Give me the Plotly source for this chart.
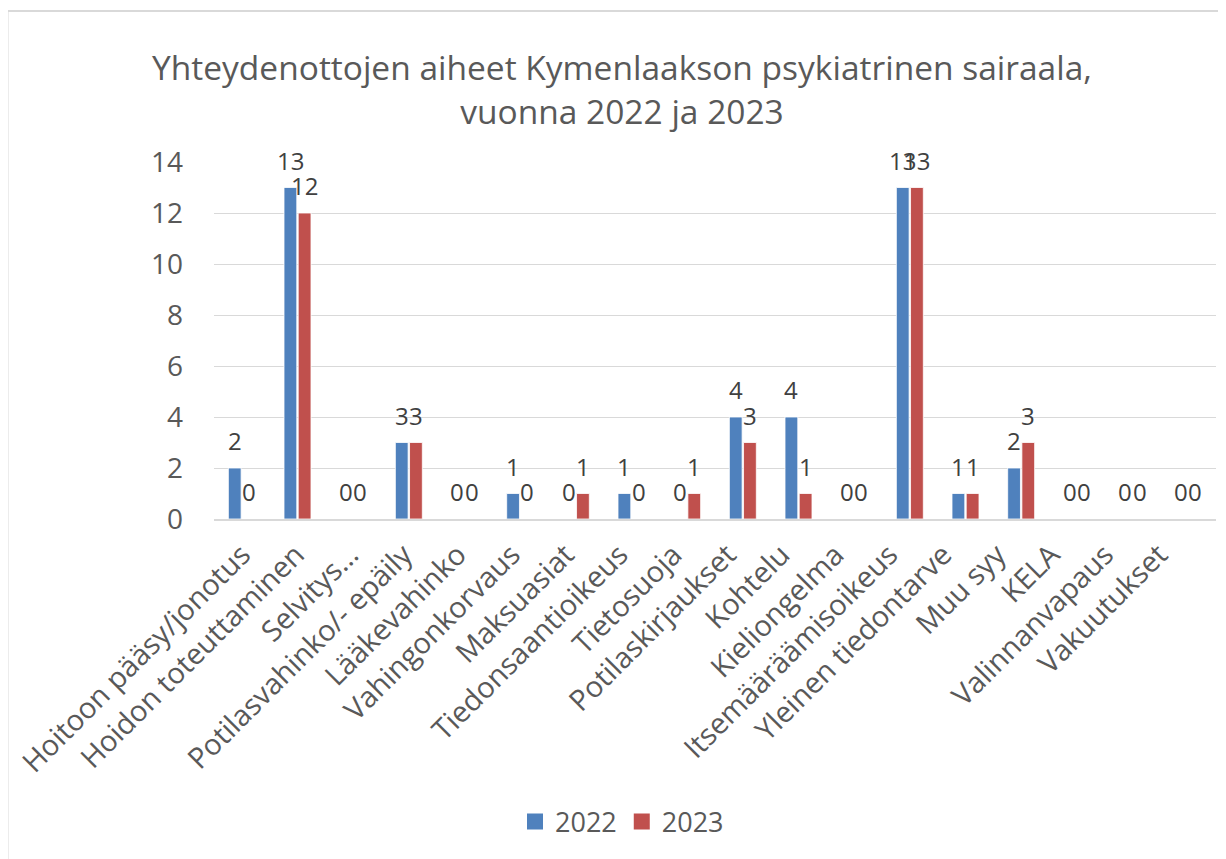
import plotly.graph_objects as go

categories = ["Hoitoon pääsy/jonotus", "Hoidon toteuttaminen", "Selvitys…",
              "Potilasvahinko/- epäily", "Lääkevahinko", "Vahingonkorvaus",
              "Maksuasiat", "Tiedonsaantioikeus", "Tietosuoja", "Potilaskirjaukset",
              "Kohtelu", "Kieliongelma", "Itsemääräämisoikeus", "Yleinen tiedontarve",
              "Muu syy", "KELA", "Valinnanvapaus", "Vakuutukset"]
values_2022 = [2, 13, 0, 3, 0, 1, 0, 1, 0, 4, 4, 0, 13, 1, 2, 0, 0, 0]
values_2023 = [0, 12, 0, 3, 0, 0, 1, 0, 1, 3, 1, 0, 13, 1, 3, 0, 0, 0]
series_names = ["2022", "2023"]
colors = ["#4F81BD", "#C0504D"]
y_ticks = [0, 2, 4, 6, 8, 10, 12, 14]

FONT = "Open Sans"
GRAY = "#595959"
OFF = 8  # page offset of the figure
W, H = 1226, 859
L, R, T, B = 214 - OFF, 18 - OFF + 8, 162 - OFF, 859 - (519 - OFF)
pw, ph = W - L - R, H - T - B
BARGAP, GROUPGAP = 0.49, 0.1

# category labels are laid out slightly tighter than the bars (as Excel does)
lab_first = 242 - 214          # px from plot-left of first label anchor
lab_step = 53.94               # px between label anchors
n = len(categories)
x2_range = [-lab_first / lab_step, (pw - lab_first) / lab_step]

# horizontal offset of each series' bar centre from the category centre (px)
slot = pw / n * (1 - BARGAP) / 2
bar_off = [-slot / 2, slot / 2]

fig = go.Figure()
annotations = []
for s, (name, vals, col) in enumerate(zip(series_names, [values_2022, values_2023], colors)):
    fig.add_trace(go.Bar(
        x=categories, y=vals, name=name, showlegend=False,
        marker=dict(color=col, line=dict(color="white", width=0.8)),
    ))
    for c, v in zip(categories, vals):
        annotations.append(dict(
            x=c, y=v, xref="x", yref="y", text=str(v), showarrow=False,
            xanchor="center", yanchor="bottom", xshift=bar_off[s], yshift=9,
            font=dict(family=FONT, size=24, color="#404040")))
# carrier trace for the label axis
fig.add_trace(go.Scatter(x=[None], y=[None], xaxis="x2", yaxis="y",
                         showlegend=False, hoverinfo="skip"))
# legend entries with larger square swatches
for name, col in zip(series_names, colors):
    fig.add_trace(go.Scatter(
        x=[None], y=[None], mode="markers", name=name,
        marker=dict(symbol="square", size=17, color=col),
    ))

fig.update_layout(
    width=W, height=H,
    margin=dict(l=L, r=R, t=T, b=B, autoexpand=False),
    paper_bgcolor="white", plot_bgcolor="white",
    barmode="group", bargap=BARGAP, bargroupgap=GROUPGAP,
    font=dict(family=FONT, color=GRAY),
    title=dict(text="Yhteydenottojen aiheet Kymenlaakson psykiatrinen sairaala,<br>vuonna 2022 ja 2023",
               x=(622 - OFF) / W, xanchor="center", y=1 - (80 - OFF) / H, yanchor="middle",
               font=dict(family=FONT, size=33.5, color=GRAY)),
    showlegend=True,
    legend=dict(orientation="h", x=(622 - 214) / pw, xanchor="center",
                y=(519 - 822) / ph, yanchor="middle",
                font=dict(family=FONT, size=27, color=GRAY),
                itemsizing="trace", traceorder="normal", itemwidth=30),
    xaxis=dict(showticklabels=False,
               showline=True, linecolor="#d9d9d9", linewidth=1.5,
               ticks="", showgrid=False),
    xaxis2=dict(overlaying="x", anchor="y", side="bottom", range=x2_range,
                tickmode="array", tickvals=list(range(n)), ticktext=categories,
                tickangle=-45, tickfont=dict(family=FONT, size=29, color=GRAY),
                showline=False, showgrid=False, zeroline=False, ticks="",
                ticklabelstandoff=12),
    yaxis=dict(range=[0, 14], tickvals=y_ticks, ticktext=[str(v) for v in y_ticks],
               tickfont=dict(family=FONT, size=28, color=GRAY),
               showgrid=True, gridcolor="#d9d9d9", gridwidth=1.3,
               zeroline=False, showline=False, ticks="", ticklabelstandoff=30),
    annotations=annotations,
    shapes=[dict(type="rect", xref="paper", yref="paper",
                 x0=(7.5 - 214) / pw, x1=1.5, y0=-2.0, y1=(519 - 11) / ph,
                 line=dict(color="#d9d9d9", width=2), fillcolor="rgba(0,0,0,0)",
                 layer="below")],
)

fig.write_html("out.html")
